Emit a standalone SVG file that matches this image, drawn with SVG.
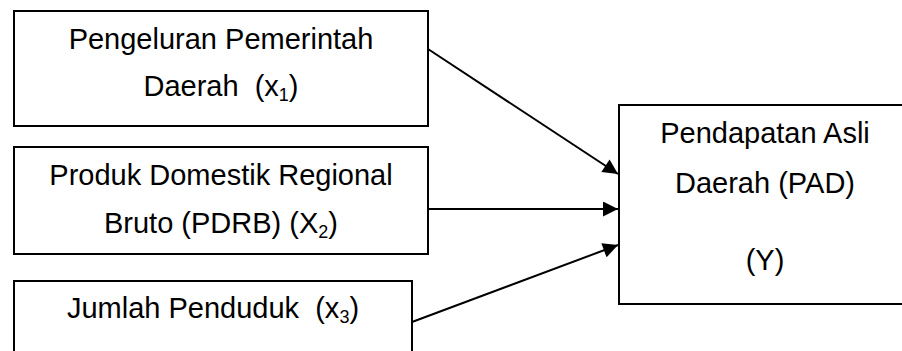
<svg xmlns="http://www.w3.org/2000/svg" width="902" height="351" viewBox="0 0 902 351">
<defs>
<style>
.box{fill:#fff;stroke:#000;stroke-width:2}
.t{font-family:"Liberation Sans",Arial,sans-serif;font-size:29px;fill:#000;text-anchor:middle}
.sub{font-size:18px}
.c{stroke:#000;stroke-width:2;fill:none}
</style>
<marker id="ah" viewBox="0 0 10 10" refX="10" refY="5" markerWidth="8" markerHeight="7.5" markerUnits="strokeWidth" orient="auto">
<path d="M0,0 L10,5 L0,10 z" fill="#000"/>
</marker>
</defs>
<rect width="902" height="351" fill="#fff"/>
<g id="connectors">
<line class="c" x1="428" y1="49" x2="618" y2="174" marker-end="url(#ah)"/>
<line class="c" x1="428" y1="209" x2="618" y2="209" marker-end="url(#ah)"/>
<line class="c" x1="412" y1="322" x2="618" y2="245" marker-end="url(#ah)"/>
</g>
<g id="x1">
<rect class="box" x="14" y="11" width="414" height="115"/>
<text class="t" x="221" y="49">Pengeluran Pemerintah</text>
<text class="t" x="221" y="96" xml:space="preserve">Daerah  (x<tspan class="sub" dy="5">1</tspan><tspan dy="-5">)</tspan></text>
</g>
<g id="x2">
<rect class="box" x="14" y="147" width="414" height="107"/>
<text class="t" x="221" y="185">Produk Domestik Regional</text>
<text class="t" x="221" y="233">Bruto (PDRB) (X<tspan class="sub" dy="5">2</tspan><tspan dy="-5">)</tspan></text>
</g>
<g id="x3">
<rect class="box" x="14" y="281" width="398" height="90"/>
<text class="t" x="213" y="318" xml:space="preserve">Jumlah Penduduk  (x<tspan class="sub" dy="5">3</tspan><tspan dy="-5">)</tspan></text>
</g>
<g id="y">
<rect class="box" x="619" y="105" width="300" height="199"/>
<text class="t" x="765" y="143">Pendapatan Asli</text>
<text class="t" x="765" y="193">Daerah (PAD)</text>
<text class="t" x="765" y="270">(Y)</text>
</g>
</svg>
